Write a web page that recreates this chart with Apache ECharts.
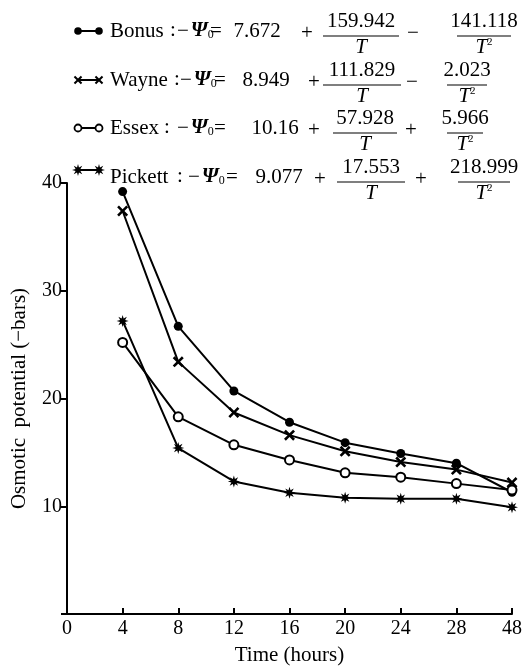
<!DOCTYPE html>
<html>
<head>
<meta charset="utf-8">
<script src="https://cdn.jsdelivr.net/npm/echarts@6/dist/echarts.min.js"></script>
<style>
html,body{margin:0;padding:0;background:#fff;}
#chart{width:525px;height:671px;}
</style>
</head>
<body>
<div id="chart"></div>
<script>
// ---- data ----
const categories = ['0','4','8','12','16','20','24','28','48'];
const bonus   = [null, 39.2, 26.7, 20.7, 17.8, 15.9, 14.9, 14.0, 11.3];
const wayne   = [null, 37.4, 23.4, 18.7, 16.6, 15.1, 14.1, 13.4, 12.2];
const essex   = [null, 25.2, 18.3, 15.7, 14.3, 13.1, 12.7, 12.1, 11.5];
const pickett = [null, 27.2, 15.4, 12.3, 11.25, 10.8, 10.7, 10.7, 9.9];
const yTicks = [10, 20, 30, 40];

// legend text
const legendNames = ['Bonus', 'Wayne', 'Essex', 'Pickett'];
const constants   = ['7.672', '8.949', '10.16', '9.077'];
const op1         = ['+', '+', '+', '+'];
const num1        = ['159.942', '111.829', '57.928', '17.553'];
const op2         = ['−', '−', '+', '+'];
const num2        = ['141.118', '2.023', '5.966', '218.999'];

// ---- symbol shapes ----
const FONT = 'Liberation Serif';
function starPoints(cx, cy, ro, ri, n) {
  const pts = [];
  for (let k = 0; k < 2 * n; k++) {
    const r = k % 2 === 0 ? ro : ri;
    const a = -Math.PI / 2 + k * Math.PI / n;
    pts.push([cx + r * Math.cos(a), cy + r * Math.sin(a)]);
  }
  return pts;
}
function crossPoints(cx, cy, a, t) {
  const base = [[-t,-a],[t,-a],[t,-t],[a,-t],[a,t],[t,t],[t,a],[-t,a],[-t,t],[-a,t],[-a,-t],[-t,-t]];
  const c = Math.cos(Math.PI/4), s = Math.sin(Math.PI/4);
  return base.map(p => [cx + p[0]*c - p[1]*s, cy + p[0]*s + p[1]*c]);
}
function toPath(pts) {
  return 'path://' + pts.map((p, i) => (i ? 'L' : 'M') + p[0].toFixed(2) + ',' + p[1].toFixed(2)).join('') + 'Z';
}
const xSymbol = toPath(crossPoints(10, 10, 9, 1.8));
const starSymbol = toPath(starPoints(10, 10, 10, 4.5, 8));

const seriesDefs = [
  { name: 'Bonus', data: bonus, symbol: 'circle', size: 9 },
  { name: 'Wayne', data: wayne, symbol: xSymbol, size: 11 },
  { name: 'Essex', data: essex, symbol: 'emptyCircle', size: 9 },
  { name: 'Pickett', data: pickett, symbol: starSymbol, size: 12 }
];

// ---- legend layout (graphic) ----
const rowY = [31, 80, 128, 177];
const colonX = [173, 177, 167, 180];
const psiX = [177, 180, 177, 188];
const eqX = [216, 220, 220, 232];
const constX = [257, 266, 275, 279];
const op1X = [307, 314, 314, 320];
const f1X = [361, 362, 365, 371];
const f1W = [38, 39, 32, 34];
const op2X = [413, 412, 411, 421];
const f2X = [484, 467, 465, 484];
const f2W = [27, 20, 18, 26];
const FS = 21;

function txt(text, x, y, align, extra) {
  return {
    type: 'text', x: x, y: y,
    style: Object.assign({ text: text, fontFamily: FONT, fontSize: FS, fill: '#000',
      textAlign: align || 'center', textVerticalAlign: 'middle' }, extra || {})
  };
}
const graphics = [];
for (let i = 0; i < 4; i++) {
  const cy = rowY[i];
  const my = i === 3 ? cy - 7 : cy;
  graphics.push({ type: 'line', shape: { x1: 78, y1: my, x2: 99, y2: my }, style: { stroke: '#000', lineWidth: 2 } });
  [78, 99].forEach(mx => {
    if (i === 0) graphics.push({ type: 'circle', shape: { cx: mx, cy: my, r: 3.8 }, style: { fill: '#000' } });
    if (i === 1) graphics.push({ type: 'polygon', shape: { points: crossPoints(mx, my, 5, 1) }, style: { fill: '#000' } });
    if (i === 2) graphics.push({ type: 'circle', shape: { cx: mx, cy: my, r: 3.5 }, style: { fill: '#fff', stroke: '#000', lineWidth: 1.8 } });
    if (i === 3) graphics.push({ type: 'polygon', shape: { points: starPoints(mx, my, 6, 2.6, 8) }, style: { fill: '#000' } });
  });
  graphics.push(txt(legendNames[i], 110, cy, 'left'));
  graphics.push(txt(':', colonX[i], cy - 1, 'center'));
  graphics.push({
    type: 'text', x: psiX[i], y: cy,
    style: {
      text: '{m|−}{p|Ψ}{s|0}', fontFamily: FONT, fontSize: FS, fill: '#000',
      textAlign: 'left', textVerticalAlign: 'middle',
      rich: {
        m: { fontFamily: FONT, fontSize: FS, padding: [0, 2, 0, 0] },
        p: { fontFamily: FONT, fontSize: FS, fontStyle: 'italic', fontWeight: 'bold' },
        s: { fontFamily: FONT, fontSize: 12, padding: [8, 0, 0, 0] }
      }
    }
  });
  graphics.push(txt('=', eqX[i], cy, 'center'));
  graphics.push(txt(constants[i], constX[i], cy, 'center'));
  graphics.push(txt(op1[i], op1X[i], cy + 2, 'center'));
  graphics.push(txt(num1[i], f1X[i], cy - 10, 'center'));
  graphics.push({ type: 'line', shape: { x1: f1X[i] - f1W[i], y1: cy + 5, x2: f1X[i] + f1W[i], y2: cy + 5 }, style: { stroke: '#000', lineWidth: 1.2 } });
  graphics.push(txt('T', f1X[i], cy + 16, 'center', { fontStyle: 'italic' }));
  graphics.push(txt(op2[i], op2X[i], cy + 2, 'center'));
  graphics.push(txt(num2[i], f2X[i], cy - 10, 'center'));
  graphics.push({ type: 'line', shape: { x1: f2X[i] - f2W[i], y1: cy + 5, x2: f2X[i] + f2W[i], y2: cy + 5 }, style: { stroke: '#000', lineWidth: 1.2 } });
  graphics.push({
    type: 'text', x: f2X[i], y: cy + 16,
    style: {
      text: '{t|T}{e|2}', fontFamily: FONT, fontSize: FS, fill: '#000',
      textAlign: 'center', textVerticalAlign: 'middle',
      rich: {
        t: { fontFamily: FONT, fontSize: FS, fontStyle: 'italic' },
        e: { fontFamily: FONT, fontSize: 11, padding: [0, 0, 9, 0] }
      }
    }
  });
}

const chart = echarts.init(document.getElementById('chart'), null, { renderer: 'canvas' });
chart.setOption({
  backgroundColor: '#fff',
  animation: false,
  grid: { left: 67, right: 12, top: 183, bottom: 49.5, containLabel: false },
  xAxis: {
    type: 'category', data: categories, boundaryGap: false,
    name: 'Time (hours)', nameLocation: 'middle', nameGap: 31,
    nameTextStyle: { fontFamily: FONT, fontSize: 21, color: '#000' },
    axisLine: { lineStyle: { color: '#000', width: 2 } },
    axisTick: { inside: true, length: 6, lineStyle: { color: '#000', width: 2 } },
    axisLabel: { fontFamily: FONT, fontSize: 20, color: '#000', margin: 5 },
    splitLine: { show: false }
  },
  yAxis: {
    type: 'value', min: 0, max: 40, interval: 10,
    name: 'Osmotic  potential (−bars)', nameLocation: 'middle', nameGap: 37,
    nameTextStyle: { fontFamily: FONT, fontSize: 21, color: '#000' },
    axisLine: { show: true, lineStyle: { color: '#000', width: 2 } },
    axisTick: { show: true, length: 6, lineStyle: { color: '#000', width: 2 } },
    axisLabel: {
      fontFamily: FONT, fontSize: 20, color: '#000', margin: 5,
      formatter: v => (yTicks.indexOf(v) >= 0 ? String(v) : '')
    },
    splitLine: { show: false }
  },
  series: seriesDefs.map(s => ({
    name: s.name, type: 'line', data: s.data,
    symbol: s.symbol, symbolSize: s.size, showSymbol: true,
    connectNulls: false,
    lineStyle: { color: '#000', width: 2 },
    itemStyle: s.symbol === 'emptyCircle'
      ? { color: '#000', borderColor: '#000', borderWidth: 1.8 }
      : { color: '#000', borderWidth: 0 }
  })),
  graphic: graphics
});
</script>
</body>
</html>
